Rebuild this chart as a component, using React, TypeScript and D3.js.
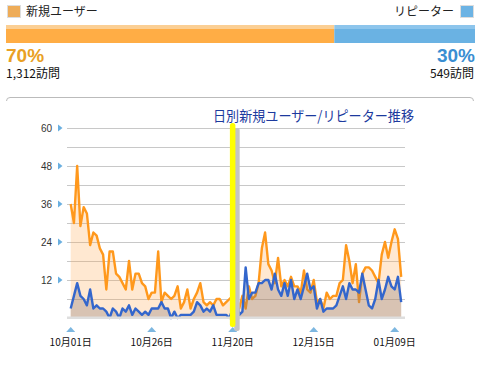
import { useEffect, useRef } from 'react';
import * as d3 from 'd3';

const WIDTH = 482;
const HEIGHT = 367;

// share of visits (top bar)
const shareLabels = ['新規ユーザー', 'リピーター'];
const sharePercents = [70, 30];
const shareVisits = [1312, 549];

// daily visits, starting 10/01
const startDate = new Date(2010, 9, 1);
const newUsers = [
  36, 30, 48, 29, 35, 33, 23, 27, 26, 22, 20, 9, 21, 21, 14, 13, 11, 9, 18, 9, 14, 14, 11, 10, 6, 8,
  8, 21, 5, 8, 7, 6, 7, 10, 3, 5, 9, 3, 6, 8, 11, 5, 4, 5, 4, 6, 6, 4, 5, 6, 7,
  8, 3, 7, 3, 10, 6, 7, 11, 22, 27, 17, 15, 11, 19, 10, 12, 10, 13, 10, 10, 8, 15, 9, 8, 12, 5, 6,
  3, 8, 6, 7, 7, 11, 12, 23, 18, 11, 17, 5, 14, 16, 16, 15, 13, 11, 20, 24, 19, 24, 28, 25, 13
];
const repeaters = [
  3, 7, 11, 7, 6, 4, 9, 3, 4, 3, 3, 2, 0, 3, 2, 0, 3, 2, 4, 1, 3, 2, 1, 2, 1, 3,
  3, 3, 5, 3, 3, 0, 2, 0, 1, 1, 1, 1, 2, 5, 4, 2, 3, 2, 4, 1, 1, 1, 1, 0, 3,
  7, 1, 2, 16, 6, 8, 8, 11, 11, 12, 12, 9, 14, 9, 7, 11, 7, 12, 6, 9, 6, 10, 14, 9, 10, 3, 6,
  2, 3, 3, 3, 4, 7, 10, 6, 11, 9, 9, 8, 14, 9, 4, 3, 6, 12, 6, 9, 13, 10, 9, 13, 5
];

const yTickLabels = [60, 48, 36, 24, 12];
const yGridValues = [6, 12, 18, 24, 30, 36, 42, 48, 54, 60];
const xTickDays = [0, 25, 50, 75, 100];
const xTickLabels = ['10月01日', '10月26日', '11月20日', '12月15日', '01月09日'];
const markerDay = 50;
const chartTitle = '日別新規ユーザー/リピーター推移';

const JP = '"Noto Sans CJK JP", sans-serif';
const SANS = '"Liberation Sans", Arial, sans-serif';

type Point = { date: Date; value: number };

const App = () => {
  const ref = useRef<SVGSVGElement | null>(null);

  useEffect(() => {
    if (!ref.current) return;
    const svg = d3.select(ref.current);
    svg.selectAll('*').remove();

    // ---- legend + share bar ----
    const shareColors = ['#FFAD45', '#6AB2E3'];
    const shareLight = ['#FBCF94', '#8DC5EC'];
    const legendColors = ['#EEAC58', '#6CB3E4'];

    svg.append('rect').attr('x', 7.5).attr('y', 5.5).attr('width', 13).attr('height', 12)
      .attr('fill', legendColors[0]).attr('stroke', '#ddd');
    svg.append('text').attr('x', 26).attr('y', 16).text(shareLabels[0])
      .style('font-family', JP).style('font-size', '12px').style('fill', '#222');
    svg.append('rect').attr('x', 460.5).attr('y', 5.5).attr('width', 13).attr('height', 12)
      .attr('fill', legendColors[1]).attr('stroke', '#ddd');
    svg.append('text').attr('x', 454).attr('y', 16).attr('text-anchor', 'end').text(shareLabels[1])
      .style('font-family', JP).style('font-size', '12px').style('fill', '#222');

    const barX = d3.scaleLinear().domain([0, 100]).range([6, 475]);
    let acc = 0;
    sharePercents.forEach((p, i) => {
      const x0 = barX(acc);
      const x1 = barX(acc + p);
      svg.append('rect').attr('x', x0).attr('y', 25).attr('width', x1 - x0).attr('height', 4).attr('fill', shareLight[i]);
      svg.append('rect').attr('x', x0).attr('y', 29).attr('width', x1 - x0).attr('height', 14).attr('fill', shareColors[i]);
      acc += p;
    });

    svg.append('text').attr('x', 6).attr('y', 62).text(`${sharePercents[0]}%`)
      .style('font-family', SANS).style('font-size', '19px').style('font-weight', 'bold').style('fill', '#E9A024');
    svg.append('text').attr('x', 475).attr('y', 62).attr('text-anchor', 'end').text(`${sharePercents[1]}%`)
      .style('font-family', SANS).style('font-size', '19px').style('font-weight', 'bold').style('fill', '#3A8ED2');
    svg.append('text').attr('x', 6).attr('y', 78).text(`${d3.format(',')(shareVisits[0])}訪問`)
      .style('font-family', JP).style('font-size', '12px').style('fill', '#111');
    svg.append('text').attr('x', 474).attr('y', 78).attr('text-anchor', 'end').text(`${d3.format(',')(shareVisits[1])}訪問`)
      .style('font-family', JP).style('font-size', '12px').style('fill', '#111');

    // panel top border
    svg.append('path').attr('d', 'M6.5,101 Q6.5,97.5 10,97.5 H470 Q473.5,97.5 473.5,101')
      .attr('fill', 'none').attr('stroke', '#bbb');

    // ---- line chart ----
    const dates = newUsers.map((_, i) => d3.timeDay.offset(startDate, i));
    const orange: Point[] = newUsers.map((v, i) => ({ date: dates[i], value: v }));
    const blue: Point[] = repeaters.map((v, i) => ({ date: dates[i], value: v }));

    const x = d3.scaleTime()
      .domain([dates[0], dates[dates.length - 1]])
      .range([70.7, 70.7 + 3.24 * (dates.length - 1)]);
    const y = d3.scaleLinear().domain([0, 60]).range([318, 128]);
    const left = 67;
    const right = 405;

    svg.append('text').attr('x', 213).attr('y', 121).text(chartTitle)
      .attr('textLength', 201).attr('lengthAdjust', 'spacingAndGlyphs')
      .style('font-family', JP).style('font-size', '14px').style('fill', '#1C3A9E');

    const g = svg.append('g');

    // grid
    g.selectAll('.grid').data(yGridValues).enter().append('line')
      .attr('x1', left).attr('x2', right)
      .attr('y1', (d) => Math.round(y(d)) + 0.5).attr('y2', (d) => Math.round(y(d)) + 0.5)
      .attr('stroke', '#c8c8c8');

    // y labels + markers
    g.selectAll('.ylab').data(yTickLabels).enter().append('text')
      .attr('x', 52).attr('y', (d) => y(d)).attr('dy', '0.35em').attr('text-anchor', 'end')
      .text((d) => d)
      .style('font-family', SANS).style('font-size', '10px').style('fill', '#333');
    g.selectAll('.ymark').data(yTickLabels).enter().append('path')
      .attr('d', (d) => `M58,${y(d) - 3.5} L62.5,${y(d)} L58,${y(d) + 3.5} Z`)
      .attr('fill', '#6AAFE0');

    const area = d3.area<Point>().x((d) => x(d.date)).y0(y(0)).y1((d) => y(d.value));
    const line = d3.line<Point>().x((d) => x(d.date)).y((d) => y(d.value));

    g.append('path').datum(orange).attr('d', area).attr('fill', '#FFA64D').attr('fill-opacity', 0.26);
    g.append('path').datum(orange).attr('d', line).attr('fill', 'none')
      .attr('stroke', '#FF981C').attr('stroke-width', 2.4).attr('stroke-linejoin', 'round');
    g.append('path').datum(blue).attr('d', area).attr('fill', 'rgb(125,110,110)').attr('fill-opacity', 0.3);
    g.append('path').datum(blue).attr('d', line).attr('fill', 'none')
      .attr('stroke', '#3366CC').attr('stroke-width', 2.4).attr('stroke-linejoin', 'round');

    // bottom bar
    g.append('rect').attr('x', left).attr('y', 316.5).attr('width', right - left).attr('height', 2.5).attr('fill', '#dedede');

    // x ticks
    xTickDays.forEach((day, i) => {
      const cx = x(dates[day]);
      g.append('path').attr('d', `M${cx - 4.5},332 L${cx},327 L${cx + 4.5},332 Z`).attr('fill', '#7DB7E0');
      g.append('text').attr('x', cx).attr('y', 346).attr('text-anchor', 'middle').text(xTickLabels[i])
        .style('font-family', JP).style('font-size', '10px').style('fill', '#111');
    });

    // marker bar at 11/20
    const mx = x(dates[markerDay]);
    g.append('rect').attr('x', mx + 1.5).attr('y', 128).attr('width', 5.5).attr('height', 203).attr('rx', 2)
      .attr('fill', '#c4c4c4');
    g.append('rect').attr('x', mx - 2.8).attr('y', 123).attr('width', 5.5).attr('height', 204).attr('rx', 2.5)
      .attr('fill', '#FFFF00');
  }, []);

  return (
    <svg
      ref={ref}
      width={WIDTH}
      height={HEIGHT}
      style={{ position: 'absolute', left: 0, top: 0, background: '#fff' }}
    />
  );
};

export default App;
